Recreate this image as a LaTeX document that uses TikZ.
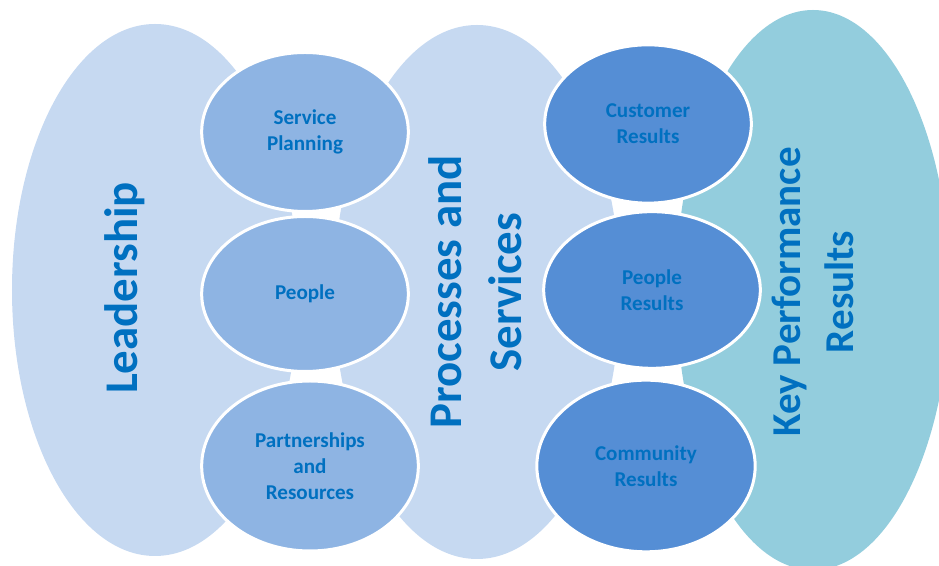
\documentclass[tikz,border=0pt]{standalone}
\usepackage{fontspec}
\setmainfont{Carlito}
\usetikzlibrary{shapes.geometric}
\definecolor{paleblue}{HTML}{C6D9F1}
\definecolor{midblue}{HTML}{8EB4E3}
\definecolor{deepblue}{HTML}{558ED5}
\definecolor{kprteal}{HTML}{93CDDD}
\definecolor{textblue}{HTML}{0070C0}

\begin{document}
\begin{tikzpicture}
\tikzstyle{bigblob}=[ellipse, inner sep=0pt]
\tikzstyle{bubble}=[ellipse, draw=white, line width=0.09cm, align=center, text=textblue,
    font=\bfseries\fontsize{18}{22}\selectfont]
\tikzstyle{heading}=[rotate=90, align=center, text=textblue, inner sep=0pt]

\useasboundingbox (0,0) rectangle (28.17,16.98);

    \node[bigblob, fill=paleblue, minimum width = 8.58cm,
    minimum height = 15.96cm] (lead) at (4.65,8.28) {};
    \node[bigblob, fill=paleblue, minimum width = 8.58cm,
    minimum height = 16.02cm] (proc) at (14.31,8.22) {};
    \node[bigblob, fill=kprteal, minimum width = 8.22cm,
    minimum height = 16.8cm] (kpr) at (24.39,8.28) {};


    \node[bubble, fill=midblue, minimum width = 6.2cm,
    minimum height = 4.77cm] (plan) at (9.15,13.02) {Service\\Planning};
    \node[bubble, fill=midblue, minimum width = 6.2cm,
    minimum height = 4.65cm] (people) at (9.15,8.16) {People};
    \node[bubble, fill=midblue, minimum width = 6.5cm,
    minimum height = 5.1cm] (partner) at (9.3,3.0) {Partnerships\\and\\Resources};


    \node[bubble, fill=deepblue, minimum width = 6.2cm,
    minimum height = 4.75cm] (cust) at (19.44,13.26) {Customer\\Results};
    \node[bubble, fill=deepblue, minimum width = 6.5cm,
    minimum height = 4.7cm] (peopleres) at (19.56,8.28) {People\\Results};
    \node[bubble, fill=deepblue, minimum width = 6.55cm,
    minimum height = 5.15cm] (comm) at (19.38,3.0) {Community\\Results};


\node[heading, font=\bfseries\fontsize{40}{51}\selectfont] (leadtxt) at (3.75,8.34) {Leadership};
\node[heading, font=\bfseries\fontsize{40}{51}\selectfont] (proctxt) at (14.25,8.22) {Processes and\\Services};
\node[heading, font=\bfseries\fontsize{35}{45}\selectfont] (kprtxt) at (24.39,8.22) {Key Performance\\Results};
\end{tikzpicture}
\end{document}
